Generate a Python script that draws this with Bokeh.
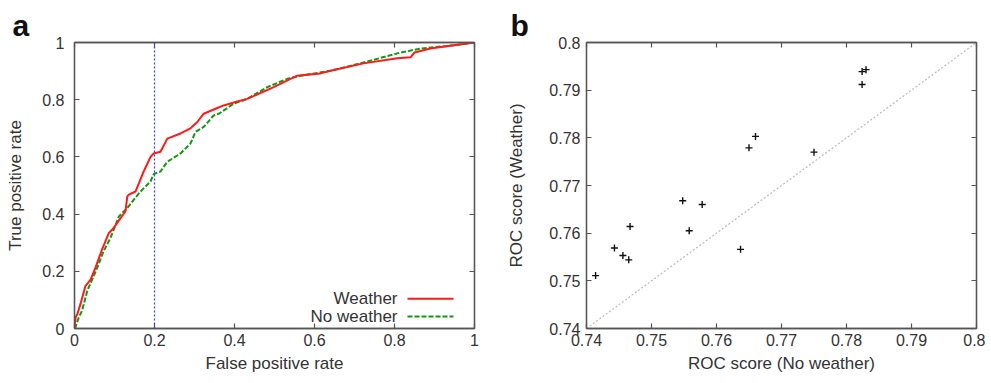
from bokeh.plotting import figure
from bokeh.models import Range1d, LinearAxis, FixedTicker, PrintfTickFormatter, Title, Span
from bokeh.layouts import row
from bokeh.embed import file_html
from bokeh.resources import INLINE
from bokeh.core.properties import value

# ---------------- data ----------------
# Panel a: ROC curves
fpr_weather = [0, 0.003, 0.007, 0.015, 0.0275, 0.04, 0.0525, 0.069, 0.086, 0.098, 0.115, 0.1275,
               0.132, 0.136, 0.1525, 0.173, 0.19, 0.198, 0.215, 0.232, 0.265, 0.29, 0.307, 0.323,
               0.357, 0.373, 0.4025, 0.432, 0.498, 0.54, 0.557, 0.615, 0.64, 0.7225, 0.807, 0.84,
               0.85, 0.89, 0.948, 1.0]
tpr_weather = [0, 0.04, 0.05, 0.086, 0.149, 0.17, 0.213, 0.277, 0.334, 0.352, 0.386, 0.41,
               0.462, 0.468, 0.479, 0.549, 0.60, 0.612, 0.618, 0.664, 0.682, 0.70, 0.722, 0.751,
               0.771, 0.78, 0.792, 0.803, 0.844, 0.873, 0.884, 0.892, 0.901, 0.927, 0.945, 0.948,
               0.965, 0.979, 0.99, 1.0]
fpr_noweather = [0, 0.0025, 0.011, 0.019, 0.032, 0.057, 0.073, 0.09, 0.111, 0.132, 0.148, 0.165,
                 0.19, 0.198, 0.215, 0.232, 0.265, 0.29, 0.3025, 0.323, 0.348, 0.361, 0.398, 0.432,
                 0.482, 0.532, 0.565, 0.64, 0.7225, 0.807, 0.865, 0.948, 1.0]
tpr_noweather = [0, 0.005, 0.04, 0.0625, 0.132, 0.213, 0.271, 0.317, 0.392, 0.421, 0.45, 0.479,
                 0.514, 0.54, 0.549, 0.583, 0.612, 0.647, 0.6875, 0.705, 0.745, 0.751, 0.786, 0.803,
                 0.844, 0.873, 0.884, 0.901, 0.93, 0.962, 0.979, 0.99, 1.0]
threshold_fpr = 0.2

# Panel b: ROC scores
roc_no_weather = [0.7414, 0.7443, 0.7456, 0.7465, 0.7467, 0.7548, 0.7558, 0.7578, 0.7637,
                  0.7650, 0.7660, 0.7750, 0.7824, 0.7824, 0.7830]
roc_weather = [0.7511, 0.7569, 0.7553, 0.7544, 0.7614, 0.7668, 0.7605, 0.7660, 0.7566,
               0.7779, 0.7803, 0.7770, 0.7912, 0.7939, 0.7943]

ticks_a = [0, 0.2, 0.4, 0.6, 0.8, 1.0]
ticks_b = [0.74, 0.75, 0.76, 0.77, 0.78, 0.79, 0.80]

FONT = "Liberation Sans"
TXT = "#333333"
FRAME = "#555555"


def style_axes(p, ticks):
    for ax in p.axis:
        ax.ticker = FixedTicker(ticks=ticks)
        ax.formatter = PrintfTickFormatter(format="%g")
        ax.major_tick_in = 5
        ax.major_tick_out = 0
        ax.minor_tick_line_color = None
        ax.axis_line_color = FRAME
        ax.axis_line_width = 1.3
        ax.major_tick_line_color = FRAME
        ax.major_tick_line_width = 1.2
        ax.major_label_text_font = FONT
        ax.major_label_text_font_size = "16px"
        ax.major_label_text_color = TXT
        ax.axis_label_text_font = FONT
        ax.axis_label_text_font_size = "17px"
        ax.axis_label_text_font_style = "normal"
        ax.axis_label_text_color = TXT
    for side in ("above", "right"):
        ax = LinearAxis(ticker=FixedTicker(ticks=ticks), major_tick_in=5, major_tick_out=0,
                        minor_tick_line_color=None, axis_line_color=FRAME, axis_line_width=1.3,
                        major_tick_line_color=FRAME, major_tick_line_width=1.2,
                        major_label_text_font_size="1px", major_label_text_color=None,
                        major_label_standoff=0)
        p.add_layout(ax, side)
    p.grid.visible = False
    p.outline_line_color = FRAME
    p.outline_line_width = 1.3


def panel_title(text, offset):
    return Title(text=text, align="left", offset=offset, standoff=2,
                 text_font=FONT, text_font_size="30px", text_font_style="bold",
                 text_color="#111111")


# ---------------- panel a ----------------
pa = figure(width=480, height=380, output_backend="svg", toolbar_location=None,
            x_range=Range1d(0, 1), y_range=Range1d(0, 1),
            min_border_left=74, min_border_right=6, min_border_top=40, min_border_bottom=52)
pa.title = panel_title("a", -62)
pa.xaxis.axis_label = "False positive rate"
pa.yaxis.axis_label = "True positive rate"
style_axes(pa, ticks_a)
pa.xaxis[0].major_label_standoff = 8
pa.yaxis[0].major_label_standoff = 10
pa.xaxis[0].axis_label_standoff = 8
pa.yaxis[0].axis_label_standoff = 14

pa.add_layout(Span(location=threshold_fpr, dimension="height", line_color="#3b3bff",
                   line_dash="2 2", line_width=1.2))
pa.line(fpr_noweather, tpr_noweather, line_color="#119911", line_width=2, line_dash="5 2")
pa.line(fpr_weather, tpr_weather, line_color="#ff1a1a", line_width=2)

# legend (key on the right like the original)
pa.text(x=[0.8075, 0.8075], y=[0.104, 0.042], text=["Weather", "No weather"],
        text_align="right", text_baseline="middle", text_font=value(FONT),
        text_font_size="17px", text_color=TXT)
pa.line([0.8325, 0.9475], [0.104, 0.104], line_color="#ff1a1a", line_width=2)
pa.line([0.8325, 0.9475], [0.042, 0.042], line_color="#119911", line_width=2, line_dash="5 2")

# ---------------- panel b ----------------
pb = figure(width=505, height=380, output_backend="svg", toolbar_location=None,
            x_range=Range1d(0.74, 0.80), y_range=Range1d(0.74, 0.80),
            min_border_left=106, min_border_right=9, min_border_top=42, min_border_bottom=51)
pb.title = panel_title("b", -76)
pb.xaxis.axis_label = "ROC score (No weather)"
pb.yaxis.axis_label = "ROC score (Weather)"
style_axes(pb, ticks_b)
pb.xaxis[0].major_label_standoff = 6
pb.yaxis[0].major_label_standoff = 6
pb.xaxis[0].axis_label_standoff = 10
pb.yaxis[0].axis_label_standoff = 20

pb.line([ticks_b[0], ticks_b[-1]], [ticks_b[0], ticks_b[-1]], line_color="#bbbbbb",
        line_width=1.2, line_dash="2 2")
pb.scatter(roc_no_weather, roc_weather, marker="cross", size=7, line_color="#111111",
           line_width=1.4)

layout = row(pa, pb)
open("out.html", "w").write(file_html(layout, INLINE))
